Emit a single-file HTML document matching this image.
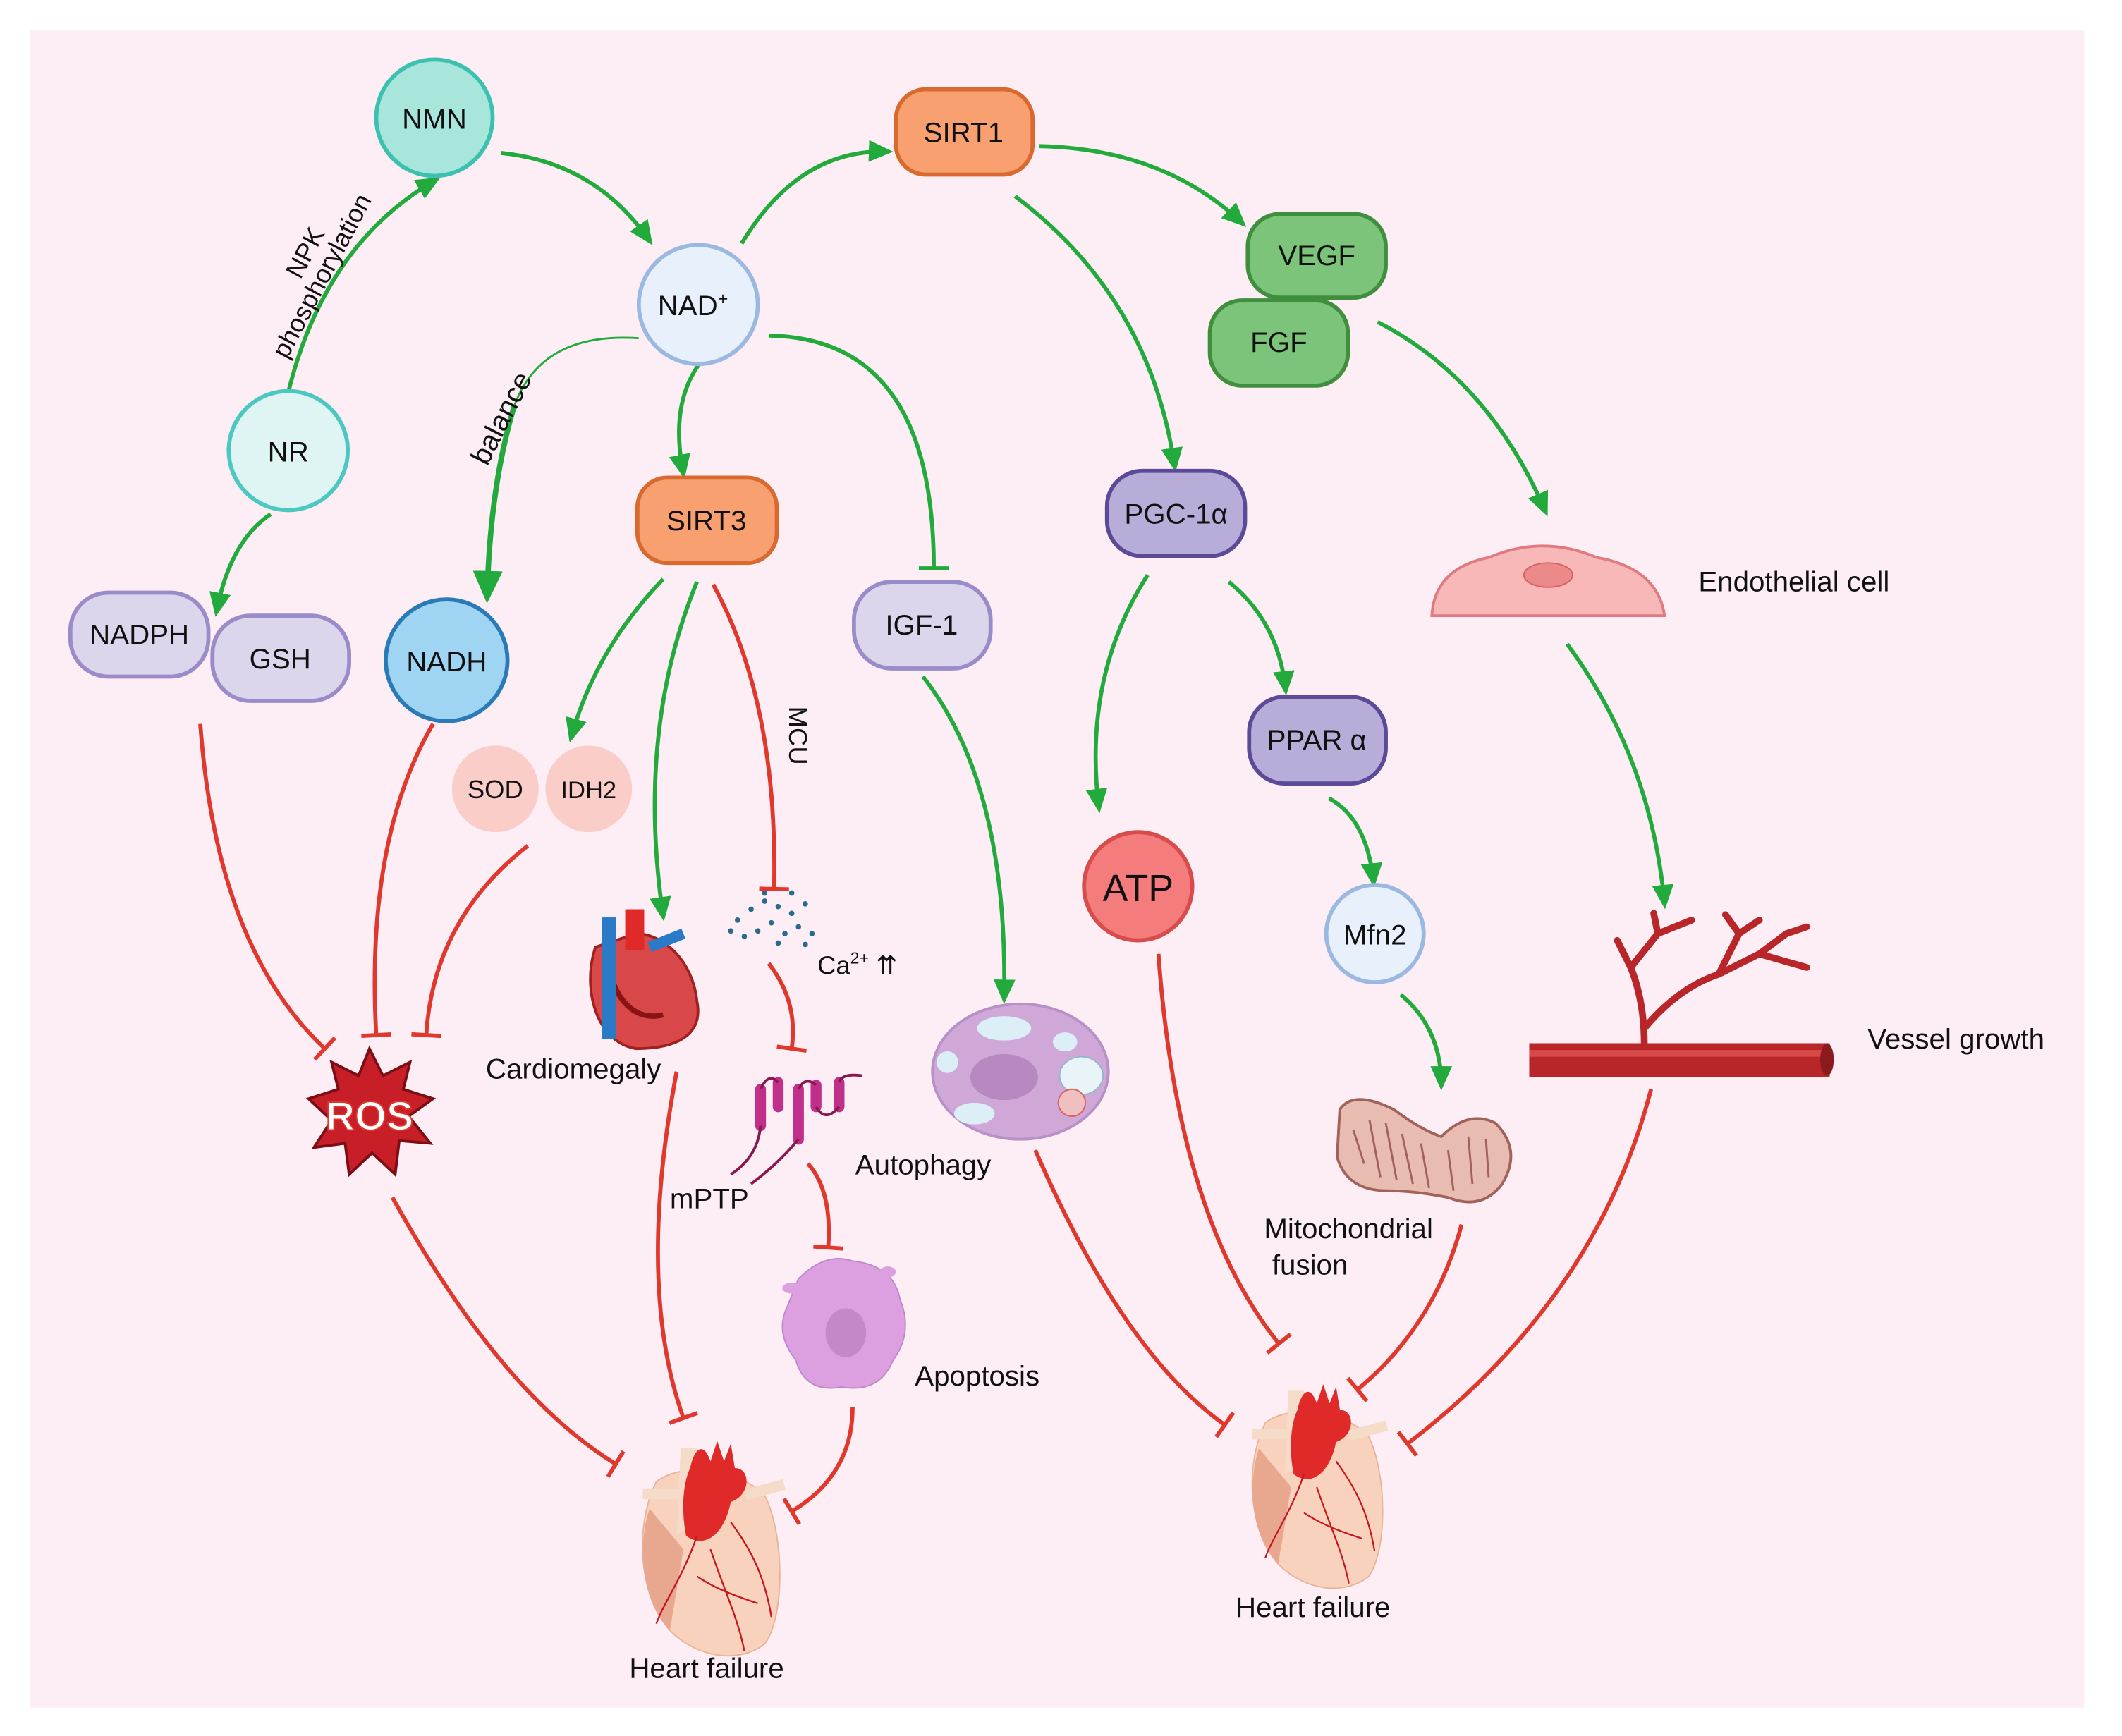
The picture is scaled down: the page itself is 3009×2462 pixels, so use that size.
<!DOCTYPE html>
<html><head><meta charset="utf-8"><style>
html,body{margin:0;padding:0;background:#fff}
svg{display:block}
text{font-family:"Liberation Sans",sans-serif;fill:#111}
</style></head><body>
<svg width="3009" height="2462" viewBox="0 0 1568 1283" preserveAspectRatio="none" xmlns="http://www.w3.org/2000/svg">
<defs>
<marker id="ga" markerUnits="userSpaceOnUse" markerWidth="24" markerHeight="24" refX="14" refY="10" orient="auto"><path d="M0,2 L18,10 L0,18 Z" fill="#22aa3c"/></marker>
<marker id="gab" markerUnits="userSpaceOnUse" markerWidth="30" markerHeight="30" refX="18" refY="13" orient="auto"><path d="M0,2 L24,13 L0,24 Z" fill="#22aa3c"/></marker>
<marker id="rt" markerUnits="userSpaceOnUse" markerWidth="6" markerHeight="26" refX="2" refY="13" orient="auto"><path d="M2,2 L2,24" stroke="#e0382c" stroke-width="3"/></marker>
<marker id="gt" markerUnits="userSpaceOnUse" markerWidth="6" markerHeight="26" refX="2" refY="13" orient="auto"><path d="M2,2 L2,24" stroke="#22aa3c" stroke-width="3"/></marker>
<g id="heart">
<path d="M-40,-30 C-55,0 -55,50 -30,80 C-10,100 20,105 40,90 C55,70 55,10 40,-20 C20,-40 -20,-45 -40,-30 Z" fill="#f8d2bc" stroke="#e8b49a"/>
<path d="M-45,-10 C-55,20 -50,60 -30,80 L-20,20 Z" fill="#e8a890"/>
<rect x="-50" y="-25" width="30" height="8" fill="#f5dcc8"/>
<rect x="25" y="-28" width="30" height="8" fill="#f5dcc8" transform="rotate(-15 40 -24)"/>
<path d="M-22,-55 L-10,-55 L-10,0 L-25,10 Z" fill="#f5dcc8"/>
<path d="M-15,-40 C-12,-55 -5,-60 0,-45 L5,-60 L10,-45 L15,-58 L18,-40 C30,-40 30,-20 15,-15 C10,10 -5,20 -18,10 C-22,-10 -20,-30 -15,-40 Z" fill="#e02a2a"/>
<path d="M-10,10 C-20,40 -35,60 -40,75 M0,20 C10,50 20,70 25,95 M15,0 C30,20 40,40 45,70 M-10,40 C5,50 20,55 35,60" stroke="#c8141c" stroke-width="1.2" fill="none"/>
</g>
</defs>
<rect width="1568" height="1283" fill="#fff"/>
<rect x="22" y="22" width="1518" height="1240" fill="#fdedf4"/>

<g fill="none" stroke="#22aa3c" stroke-width="3">
<path d="M213,290 Q240,180 322,133" marker-end="url(#ga)"/>
<path d="M370,113 Q440,120 480,178" marker-end="url(#ga)"/>
<path d="M548,180 Q590,110 656,112" marker-end="url(#ga)"/>
<path d="M768,108 Q860,110 918,165" marker-end="url(#ga)"/>
<path d="M750,145 Q850,220 868,345" marker-end="url(#ga)"/>
<path d="M1018,238 Q1100,280 1142,378" marker-end="url(#ga)"/>
<path d="M1158,476 Q1220,560 1230,668" marker-end="url(#ga)"/>
<path d="M516,270 Q495,300 505,350" marker-end="url(#ga)"/>
<path d="M472,250 Q400,245 380,300" stroke-width="1.5"/>
<path d="M380,300 Q362,360 360,440" stroke-width="4" marker-end="url(#gab)"/>
<path d="M200,380 Q170,400 160,452" marker-end="url(#ga)"/>
<path d="M490,428 Q440,480 422,545" marker-end="url(#ga)"/>
<path d="M515,430 Q470,540 490,677" marker-end="url(#ga)"/>
<path d="M848,425 Q800,500 812,597" marker-end="url(#ga)"/>
<path d="M908,430 Q945,460 950,510" marker-end="url(#ga)"/>
<path d="M982,590 Q1010,605 1015,652" marker-end="url(#ga)"/>
<path d="M1035,735 Q1065,760 1065,802" marker-end="url(#ga)"/>
<path d="M682,500 Q745,580 742,738" marker-end="url(#ga)"/>
<path d="M568,248 Q690,250 690,420" marker-end="url(#gt)"/>
</g>
<g fill="none" stroke="#e0382c" stroke-width="3">
<path d="M148,535 Q160,700 240,775" marker-end="url(#rt)"/>
<path d="M320,535 Q270,620 278,765" marker-end="url(#rt)"/>
<path d="M390,625 Q320,680 315,765" marker-end="url(#rt)"/>
<path d="M527,432 Q575,520 572,657" marker-end="url(#rt)"/>
<path d="M568,712 Q590,740 585,775" marker-end="url(#rt)"/>
<path d="M597,860 Q615,880 612,922" marker-end="url(#rt)"/>
<path d="M290,885 Q370,1030 455,1082" marker-end="url(#rt)"/>
<path d="M500,792 Q470,950 505,1048" marker-end="url(#rt)"/>
<path d="M630,1040 Q630,1090 585,1117" marker-end="url(#rt)"/>
<path d="M765,850 Q830,1000 905,1053" marker-end="url(#rt)"/>
<path d="M856,705 Q870,900 945,993" marker-end="url(#rt)"/>
<path d="M1080,905 Q1060,980 1003,1027" marker-end="url(#rt)"/>
<path d="M1220,805 Q1180,960 1040,1067" marker-end="url(#rt)"/>
</g>

<g font-size="21" text-anchor="middle">
<circle cx="321" cy="87" r="43" fill="#a8e6dc" stroke="#3cc0b0" stroke-width="3"/><text x="321" y="95">NMN</text>
<circle cx="516" cy="225" r="44" fill="#e8f0fb" stroke="#9ab8e0" stroke-width="3"/><text x="512" y="233">NAD<tspan font-size="13" dy="-8">+</tspan></text>
<circle cx="213" cy="333" r="44" fill="#dff5f3" stroke="#4cc8c0" stroke-width="3"/><text x="213" y="341">NR</text>
<rect x="52" y="438" width="102" height="62" rx="28" fill="#dcd6ec" stroke="#9a8cc8" stroke-width="3"/><text x="103" y="476">NADPH</text>
<rect x="157" y="455" width="101" height="63" rx="28" fill="#dcd6ec" stroke="#9a8cc8" stroke-width="3"/><text x="207" y="494">GSH</text>
<circle cx="330" cy="488" r="45" fill="#9fd4f2" stroke="#2a7ab8" stroke-width="3"/><text x="330" y="496">NADH</text>
<rect x="471" y="353" width="103" height="63" rx="22" fill="#f9a070" stroke="#d86a30" stroke-width="3"/><text x="522" y="392">SIRT3</text>
<rect x="662" y="66" width="101" height="63" rx="22" fill="#f9a070" stroke="#d86a30" stroke-width="3"/><text x="712" y="105">SIRT1</text>
<rect x="922" y="158" width="102" height="62" rx="24" fill="#7cc47a" stroke="#3f8f3f" stroke-width="3"/><text x="973" y="196">VEGF</text>
<rect x="894" y="222" width="102" height="63" rx="24" fill="#7cc47a" stroke="#3f8f3f" stroke-width="3"/><text x="945" y="260">FGF</text>
<rect x="631" y="430" width="101" height="64" rx="28" fill="#dcd6ec" stroke="#9a8cc8" stroke-width="3"/><text x="681" y="469">IGF-1</text>
<rect x="818" y="348" width="102" height="63" rx="26" fill="#b8acd8" stroke="#5a4a98" stroke-width="3"/><text x="869" y="387">PGC-1α</text>
<rect x="923" y="515" width="101" height="64" rx="26" fill="#b8acd8" stroke="#5a4a98" stroke-width="3"/><text x="973" y="554">PPAR α</text>
<circle cx="841" cy="655" r="40" fill="#f47c7c" stroke="#d84c4c" stroke-width="3"/><text x="841" y="666" font-size="28">ATP</text>
<circle cx="1016" cy="690" r="36" fill="#e8f0fb" stroke="#9ab8e0" stroke-width="3"/><text x="1016" y="698">Mfn2</text>
<circle cx="366" cy="583" r="32" fill="#fbcdc8"/><text x="366" y="590" font-size="19">SOD</text>
<circle cx="435" cy="583" r="32" fill="#fbcdc8"/><text x="435" y="590" font-size="18">IDH2</text>
</g>

<path d="M1058,455 Q1060,420 1100,412 Q1140,395 1180,412 Q1225,420 1230,455 Z" fill="#f8b8b8" stroke="#e07a80" stroke-width="2"/>
<ellipse cx="1144" cy="425" rx="18" ry="9" fill="#ec8a8a" stroke="#d86068"/>
<g stroke="#b8262a" stroke-linecap="round" fill="none">
<path d="M1215,772 Q1215,740 1205,715 L1195,695 M1205,715 L1225,690 L1222,675 M1225,690 L1250,680 M1215,760 Q1240,730 1270,720 L1300,705 L1320,690 L1335,685 M1270,720 L1285,690 L1300,680 M1300,705 L1335,715 M1285,690 L1275,676" stroke-width="5"/>
</g>
<rect x="1130" y="771" width="222" height="25" fill="#b8262a"/>
<rect x="1130" y="776" width="222" height="5" fill="#d84a4a"/>
<ellipse cx="1350" cy="783" rx="5" ry="12" fill="#8a1a1e"/>

<polygon points="273,775 283,795 303,785 298,805 320,812 302,825 318,845 295,843 292,868 275,852 258,868 255,845 232,848 245,828 228,812 250,805 245,785 265,795" fill="#c81e28" stroke="#7a0e14" stroke-width="2"/>
<text x="273" y="835" font-size="30" font-weight="bold" text-anchor="middle" style="fill:#fff;stroke:#e0382c;stroke-width:1">ROS</text>

<g>
<path d="M440,700 C430,730 440,770 470,775 C500,775 520,765 515,740 C512,710 490,690 470,690 Z" fill="#d84848" stroke="#a02020" stroke-width="2"/>
<path d="M450,715 C455,740 470,755 490,750" stroke="#8a1414" stroke-width="4" fill="none"/>
<rect x="445" y="678" width="10" height="90" fill="#2a7ac8"/>
<rect x="462" y="672" width="14" height="30" fill="#e02a2a"/>
<path d="M480,700 L505,690" stroke="#2a7ac8" stroke-width="8"/>
</g>

<g fill="#2a6a8a">
<circle cx="545" cy="680" r="2"/><circle cx="555" cy="672" r="2"/><circle cx="565" cy="666" r="2"/><circle cx="575" cy="670" r="2"/><circle cx="585" cy="675" r="2"/><circle cx="595" cy="668" r="2"/><circle cx="560" cy="688" r="2"/><circle cx="570" cy="682" r="2"/><circle cx="580" cy="690" r="2"/><circle cx="590" cy="685" r="2"/><circle cx="600" cy="690" r="2"/><circle cx="550" cy="692" r="2"/><circle cx="575" cy="697" r="2"/><circle cx="565" cy="660" r="2"/><circle cx="585" cy="660" r="2"/><circle cx="540" cy="688" r="2"/><circle cx="595" cy="698" r="2"/>
</g>
<text x="604" y="720" font-size="19">Ca<tspan font-size="12" dy="-8">2+</tspan><tspan dy="8"> ⇈</tspan></text>

<g stroke="#c0308a" stroke-width="8" stroke-linecap="round" fill="none">
<path d="M562,805 L562,832"/><path d="M575,800 L575,818"/><path d="M590,805 L590,842"/><path d="M603,802 L603,818"/><path d="M620,800 L620,818"/>
</g>
<path d="M540,868 Q560,855 562,832 M555,875 Q575,860 590,842 M562,805 Q568,792 575,800 M590,805 Q595,795 603,802 M603,818 Q610,830 620,818 M620,800 Q622,793 637,795" stroke="#8a1850" stroke-width="2" fill="none"/>

<ellipse cx="754" cy="792" rx="65" ry="50" fill="#d0a8d8" stroke="#b890c8" stroke-width="2"/>
<ellipse cx="742" cy="796" rx="25" ry="17" fill="#b888c0"/>
<ellipse cx="742" cy="760" rx="20" ry="9" fill="#dceef6"/>
<ellipse cx="720" cy="823" rx="15" ry="8" fill="#dceef6"/>
<ellipse cx="700" cy="785" rx="8" ry="8" fill="#dceef6"/>
<ellipse cx="787" cy="770" rx="9" ry="7" fill="#dceef6"/>
<ellipse cx="799" cy="795" rx="16" ry="14" fill="#e8f4f8" stroke="#90b8c8"/>
<circle cx="792" cy="815" r="10" fill="#f0c0c0" stroke="#d86060"/>

<path d="M590,945 Q610,925 630,932 Q660,935 665,960 Q675,985 660,1005 Q650,1030 622,1025 Q595,1030 588,1005 Q572,985 582,965 Z" fill="#dca0e0" stroke="#c088cc"/>
<ellipse cx="625" cy="985" rx="15" ry="18" fill="#c488c8"/>
<ellipse cx="656" cy="940" rx="6" ry="4" fill="#dca0e0"/><ellipse cx="585" cy="952" rx="7" ry="4" fill="#dca0e0"/>

<path d="M990,820 Q1000,805 1030,820 Q1050,835 1065,840 Q1085,820 1105,830 Q1125,850 1110,875 Q1095,895 1070,885 Q1045,880 1025,880 Q995,880 988,855 Z" fill="#e8bcb0" stroke="#a0625a" stroke-width="2"/>
<path d="M1000,835 L1008,860 M1012,828 L1020,870 M1024,830 L1032,872 M1036,838 L1044,875 M1050,845 L1056,878 M1070,850 L1074,880 M1085,840 L1088,875 M1098,842 L1100,870" stroke="#a0625a" stroke-width="1.5"/>

<use href="#heart" transform="translate(525,1125)"/>
<use href="#heart" transform="translate(973,1080) scale(0.95)"/>

<g font-size="21">
<text x="359" y="797">Cardiomegaly</text>
<text x="495" y="893">mPTP</text>
<text x="632" y="868">Autophagy</text>
<text x="676" y="1024">Apoptosis</text>
<text x="934" y="915">Mitochondrial</text>
<text x="940" y="942">fusion</text>
<text x="1255" y="437">Endothelial cell</text>
<text x="1380" y="775">Vessel growth</text>
<text x="465" y="1240">Heart failure</text>
<text x="913" y="1195">Heart failure</text>
<text x="0" y="0" transform="translate(360,345) rotate(-63)">balance</text>
<text x="0" y="0" transform="translate(583,522) rotate(90)" font-size="19">MCU</text>
<text x="0" y="0" transform="translate(222,207) rotate(-62)" font-size="19">NPK</text>
<text x="0" y="0" transform="translate(212,266) rotate(-62)" font-size="19">phosphorylation</text>
</g>
</svg>
</body></html>
